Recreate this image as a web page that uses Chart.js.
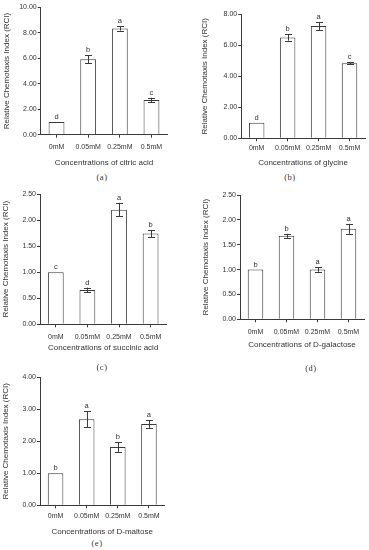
<!DOCTYPE html>
<html>
<head>
    <title>Relative Chemotaxis Index</title>
    <script src="https://cdn.jsdelivr.net/npm/chart.js"></script>
    <style>
        body {
            margin: 0;
            background: #fff;
            width: 369px;
            height: 550px;
            position: relative;
            overflow: hidden;
        }
        canvas {
            position: absolute;
        }
        .caption {
            position: absolute;
            font-family: "Liberation Serif", "DejaVu Serif", serif;
            font-size: 8.5px;
            color: #333;
            transform: translate(-50%, -50%);
            white-space: nowrap;
            letter-spacing: 0.5px;
        }
    </style>
</head>
<body>
    <canvas id="chartA"></canvas>
    <canvas id="chartB"></canvas>
    <canvas id="chartC"></canvas>
    <canvas id="chartD"></canvas>
    <canvas id="chartE"></canvas>

    <script>
        // data (mean, error, significance letter)
        var concentrations = ['0mM', '0.05mM', '0.25mM', '0.5mM'];

        var citricMean = [1.00, 5.92, 8.34, 2.72];
        var citricErr = [0.00, 0.30, 0.17, 0.18];
        var citricLetters = ['d', 'b', 'a', 'c'];

        var glycineMean = [1.00, 6.50, 7.24, 4.85];
        var glycineErr = [0.00, 0.20, 0.25, 0.08];
        var glycineLetters = ['d', 'b', 'a', 'c'];

        var succinicMean = [1.00, 0.66, 2.20, 1.74];
        var succinicErr = [0.00, 0.045, 0.13, 0.07];
        var succinicLetters = ['c', 'd', 'a', 'b'];

        var galactoseMean = [1.00, 1.68, 1.00, 1.82];
        var galactoseErr = [0.00, 0.04, 0.045, 0.10];
        var galactoseLetters = ['b', 'b', 'a', 'a'];

        var maltoseMean = [1.00, 2.69, 1.82, 2.54];
        var maltoseErr = [0.00, 0.25, 0.15, 0.12];
        var maltoseLetters = ['b', 'a', 'b', 'a'];

        var yMax = [10, 8, 2.5, 2.5, 4];
        var yStep = [2, 2, 0.5, 0.5, 1];

        var textColor = '#333';
        var lineColor = '#3a3a3a';
        var fontFamily = '"Liberation Sans", Arial, sans-serif';

        // draws the error bars and the letters above them
        var errorBarPlugin = {
            id: 'errorBars',
            afterDatasetsDraw: function(chart, args, opts) {
                var ctx = chart.ctx;
                var meta = chart.getDatasetMeta(0);
                var yScale = chart.scales.y;
                var values = chart.data.datasets[0].data;
                ctx.save();
                ctx.strokeStyle = lineColor;
                ctx.lineWidth = 1;
                ctx.fillStyle = textColor;
                ctx.font = '7.5px ' + fontFamily;
                ctx.textAlign = 'center';
                ctx.textBaseline = 'alphabetic';
                meta.data.forEach(function(bar, i) {
                    var m = values[i], e = opts.errors[i];
                    var top = yScale.getPixelForValue(m + e);
                    var bot = yScale.getPixelForValue(m - e);
                    var x = Math.round(bar.x) + 0.5;
                    if (e > 0) {
                        ctx.beginPath();
                        ctx.moveTo(x, top);
                        ctx.lineTo(x, bot);
                        ctx.moveTo(x - 3.5, Math.round(top) + 0.5);
                        ctx.lineTo(x + 3.5, Math.round(top) + 0.5);
                        ctx.moveTo(x - 3.5, Math.round(bot) + 0.5);
                        ctx.lineTo(x + 3.5, Math.round(bot) + 0.5);
                        ctx.stroke();
                    }
                    ctx.fillText(opts.letters[i], bar.x, top - 3);
                });
                ctx.restore();
            }
        };

        // panel geometry: canvas box and plot box in page pixels
        var panels = [
            { id: 'chartA', left: 0, top: 0, width: 172, height: 168, plot: [40.7, 7.3, 167.3, 134.7], yTitlePad: 2.2, tickPad: 5.5, caption: '(a)', cap: [102, 176.5],
              xTitle: 'Concentrations of citric acid', mean: citricMean, err: citricErr, letters: citricLetters },
            { id: 'chartB', left: 198, top: 0, width: 171, height: 168, plot: [241.2, 14.3, 365, 138.3], yTitlePad: 1.9, tickPad: 2.5, caption: '(b)', cap: [290, 176.5],
              xTitle: 'Concentrations of glycine', mean: glycineMean, err: glycineErr, letters: glycineLetters },
            { id: 'chartC', left: 0, top: 185, width: 172, height: 168, plot: [40, 194, 166.4, 324.3], yTitlePad: 1.2, tickPad: 5.5, caption: '(c)', cap: [102, 366.5],
              xTitle: 'Concentrations of succinic acid', mean: succinicMean, err: succinicErr, letters: succinicLetters },
            { id: 'chartD', left: 198, top: 185, width: 171, height: 165, plot: [240, 195, 364, 319.3], yTitlePad: 2.9, tickPad: 5.5, caption: '(d)', cap: [311, 368],
              xTitle: 'Concentrations of D-galactose', mean: galactoseMean, err: galactoseErr, letters: galactoseLetters },
            { id: 'chartE', left: 0, top: 370, width: 172, height: 167, plot: [40, 377.3, 164.5, 505.3], yTitlePad: 1.2, tickPad: 3.5, caption: '(e)', cap: [97, 543.3],
              xTitle: 'Concentrations of D-maltose', mean: maltoseMean, err: maltoseErr, letters: maltoseLetters }
        ];

        function createPanel(p, idx) {
            var canvas = document.getElementById(p.id);
            canvas.width = p.width;
            canvas.height = p.height;
            canvas.style.left = p.left + 'px';
            canvas.style.top = p.top + 'px';

            var yWidth = p.plot[0] - p.left;
            var padTop = p.plot[1] - p.top;
            var padRight = p.left + p.width - p.plot[2];
            var xHeight = p.top + p.height - p.plot[3];

            new Chart(canvas.getContext('2d'), {
                type: 'bar',
                data: {
                    labels: concentrations,
                    datasets: [{
                        data: p.mean,
                        backgroundColor: '#fff',
                        borderColor: lineColor,
                        borderWidth: 1,
                        barPercentage: 0.5,
                        categoryPercentage: 1
                    }]
                },
                options: {
                    responsive: false,
                    animation: false,
                    devicePixelRatio: 1,
                    layout: {
                        autoPadding: false,
                        padding: { left: 0, top: padTop, right: padRight, bottom: 0 }
                    },
                    plugins: {
                        legend: { display: false },
                        tooltip: { enabled: false },
                        errorBars: { errors: p.err, letters: p.letters }
                    },
                    scales: {
                        x: {
                            offset: true,
                            afterFit: function(s) { s.height = xHeight; },
                            grid: { display: true, drawOnChartArea: false, drawTicks: true, tickLength: 3, offset: false, color: lineColor },
                            border: { display: true, color: lineColor, width: 1 },
                            ticks: { color: textColor, padding: p.tickPad, maxRotation: 0, autoSkip: false, font: { family: fontFamily, size: 7 } },
                            title: { display: true, text: p.xTitle, color: textColor, padding: { top: 0, bottom: 0 }, font: { family: fontFamily, size: 8 } }
                        },
                        y: {
                            min: 0,
                            max: yMax[idx],
                            afterFit: function(s) { s.width = yWidth; },
                            grid: { display: true, drawOnChartArea: false, drawTicks: true, tickLength: 3, color: lineColor },
                            border: { display: true, color: lineColor, width: 1 },
                            ticks: {
                                stepSize: yStep[idx],
                                color: textColor,
                                padding: 1,
                                font: { family: fontFamily, size: 7 },
                                callback: function(v) { return v.toFixed(2); }
                            },
                            title: { display: true, text: 'Relative Chemotaxis Index (RCI)', color: textColor, padding: { top: p.yTitlePad, bottom: 0 }, font: { family: fontFamily, size: 8 } }
                        }
                    }
                },
                plugins: [errorBarPlugin]
            });

            var cap = document.createElement('div');
            cap.className = 'caption';
            cap.textContent = p.caption;
            cap.style.left = p.cap[0] + 'px';
            cap.style.top = p.cap[1] + 'px';
            document.body.appendChild(cap);
        }

        panels.forEach(createPanel);
    </script>
</body>
</html>
